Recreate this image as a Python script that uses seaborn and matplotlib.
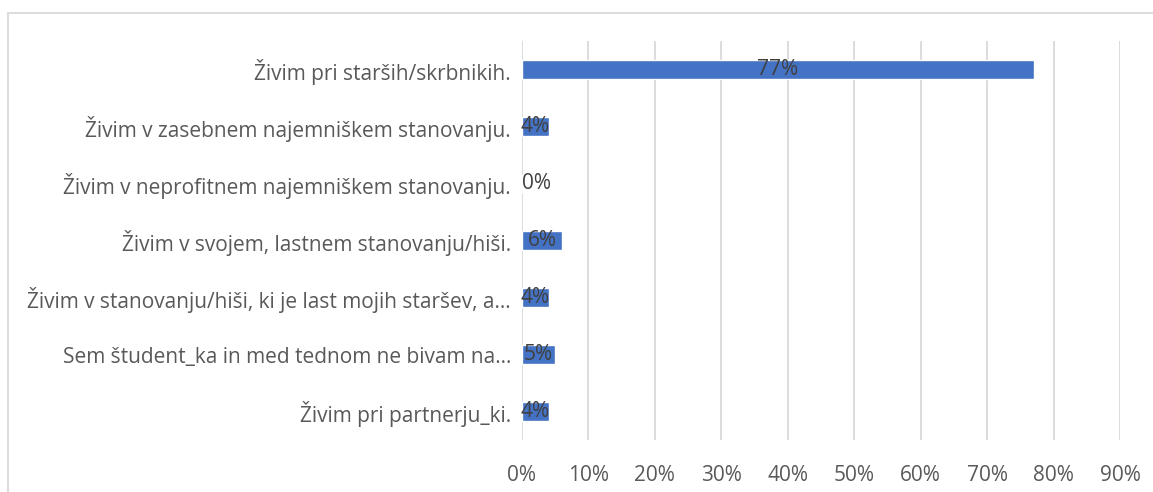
import matplotlib
matplotlib.use('Agg')
import matplotlib.pyplot as plt
import seaborn as sns
import pandas as pd
from matplotlib.patches import Rectangle

# Data
categories = [
    'Živim pri starših/skrbnikih.',
    'Živim v zasebnem najemniškem stanovanju.',
    'Živim v neprofitnem najemniškem stanovanju.',
    'Živim v svojem, lastnem stanovanju/hiši.',
    'Živim v stanovanju/hiši, ki je last mojih staršev, a…',
    'Sem študent_ka in med tednom ne bivam na…',
    'Živim pri partnerju_ki.',
]
values = [77, 4, 0, 6, 4, 5, 4]
xticks = [0, 10, 20, 30, 40, 50, 60, 70, 80, 90]

df = pd.DataFrame({'cat': categories, 'val': values})

sns.set_style('white')
plt.rcParams['font.family'] = ['Open Sans', 'DejaVu Sans']

fig = plt.figure(figsize=(11.53, 4.92), dpi=100)
ax = fig.add_axes([522 / 1153, 1 - 440 / 492, (1120 - 522) / 1153, (440 - 41) / 492])

sns.barplot(data=df, x='val', y='cat', orient='h', color='#4472C4',
            width=0.35, saturation=1, ax=ax)

for c in ax.containers:
    texts = ax.bar_label(c, labels=[f'{v}%' for v in values], label_type='center',
                         fontsize=15, color='#404040')
    for t, v in zip(texts, values):
        if v == 0:
            t.set_ha('left')

ax.set_xlim(0, 90)
ax.set_xticks(xticks)
ax.set_xticklabels([f'{t}%' for t in xticks])
ax.set_xlabel('')
ax.set_ylabel('')
ax.xaxis.grid(True, color='#D9D9D9', linewidth=1.3)
ax.set_axisbelow(True)
for s in ax.spines.values():
    s.set_visible(False)
ax.tick_params(axis='x', length=0, pad=18, labelsize=15, labelcolor='#595959')
ax.tick_params(axis='y', length=0, pad=8, labelsize=15, labelcolor='#595959')

# chart border
fig.patches.append(Rectangle((8 / 1153, -0.1), 1.2, 1 - 13 / 492 + 0.1,
                             transform=fig.transFigure, fill=False,
                             edgecolor='#D9D9D9', linewidth=1.3))

fig.savefig('out.png', dpi=100)
